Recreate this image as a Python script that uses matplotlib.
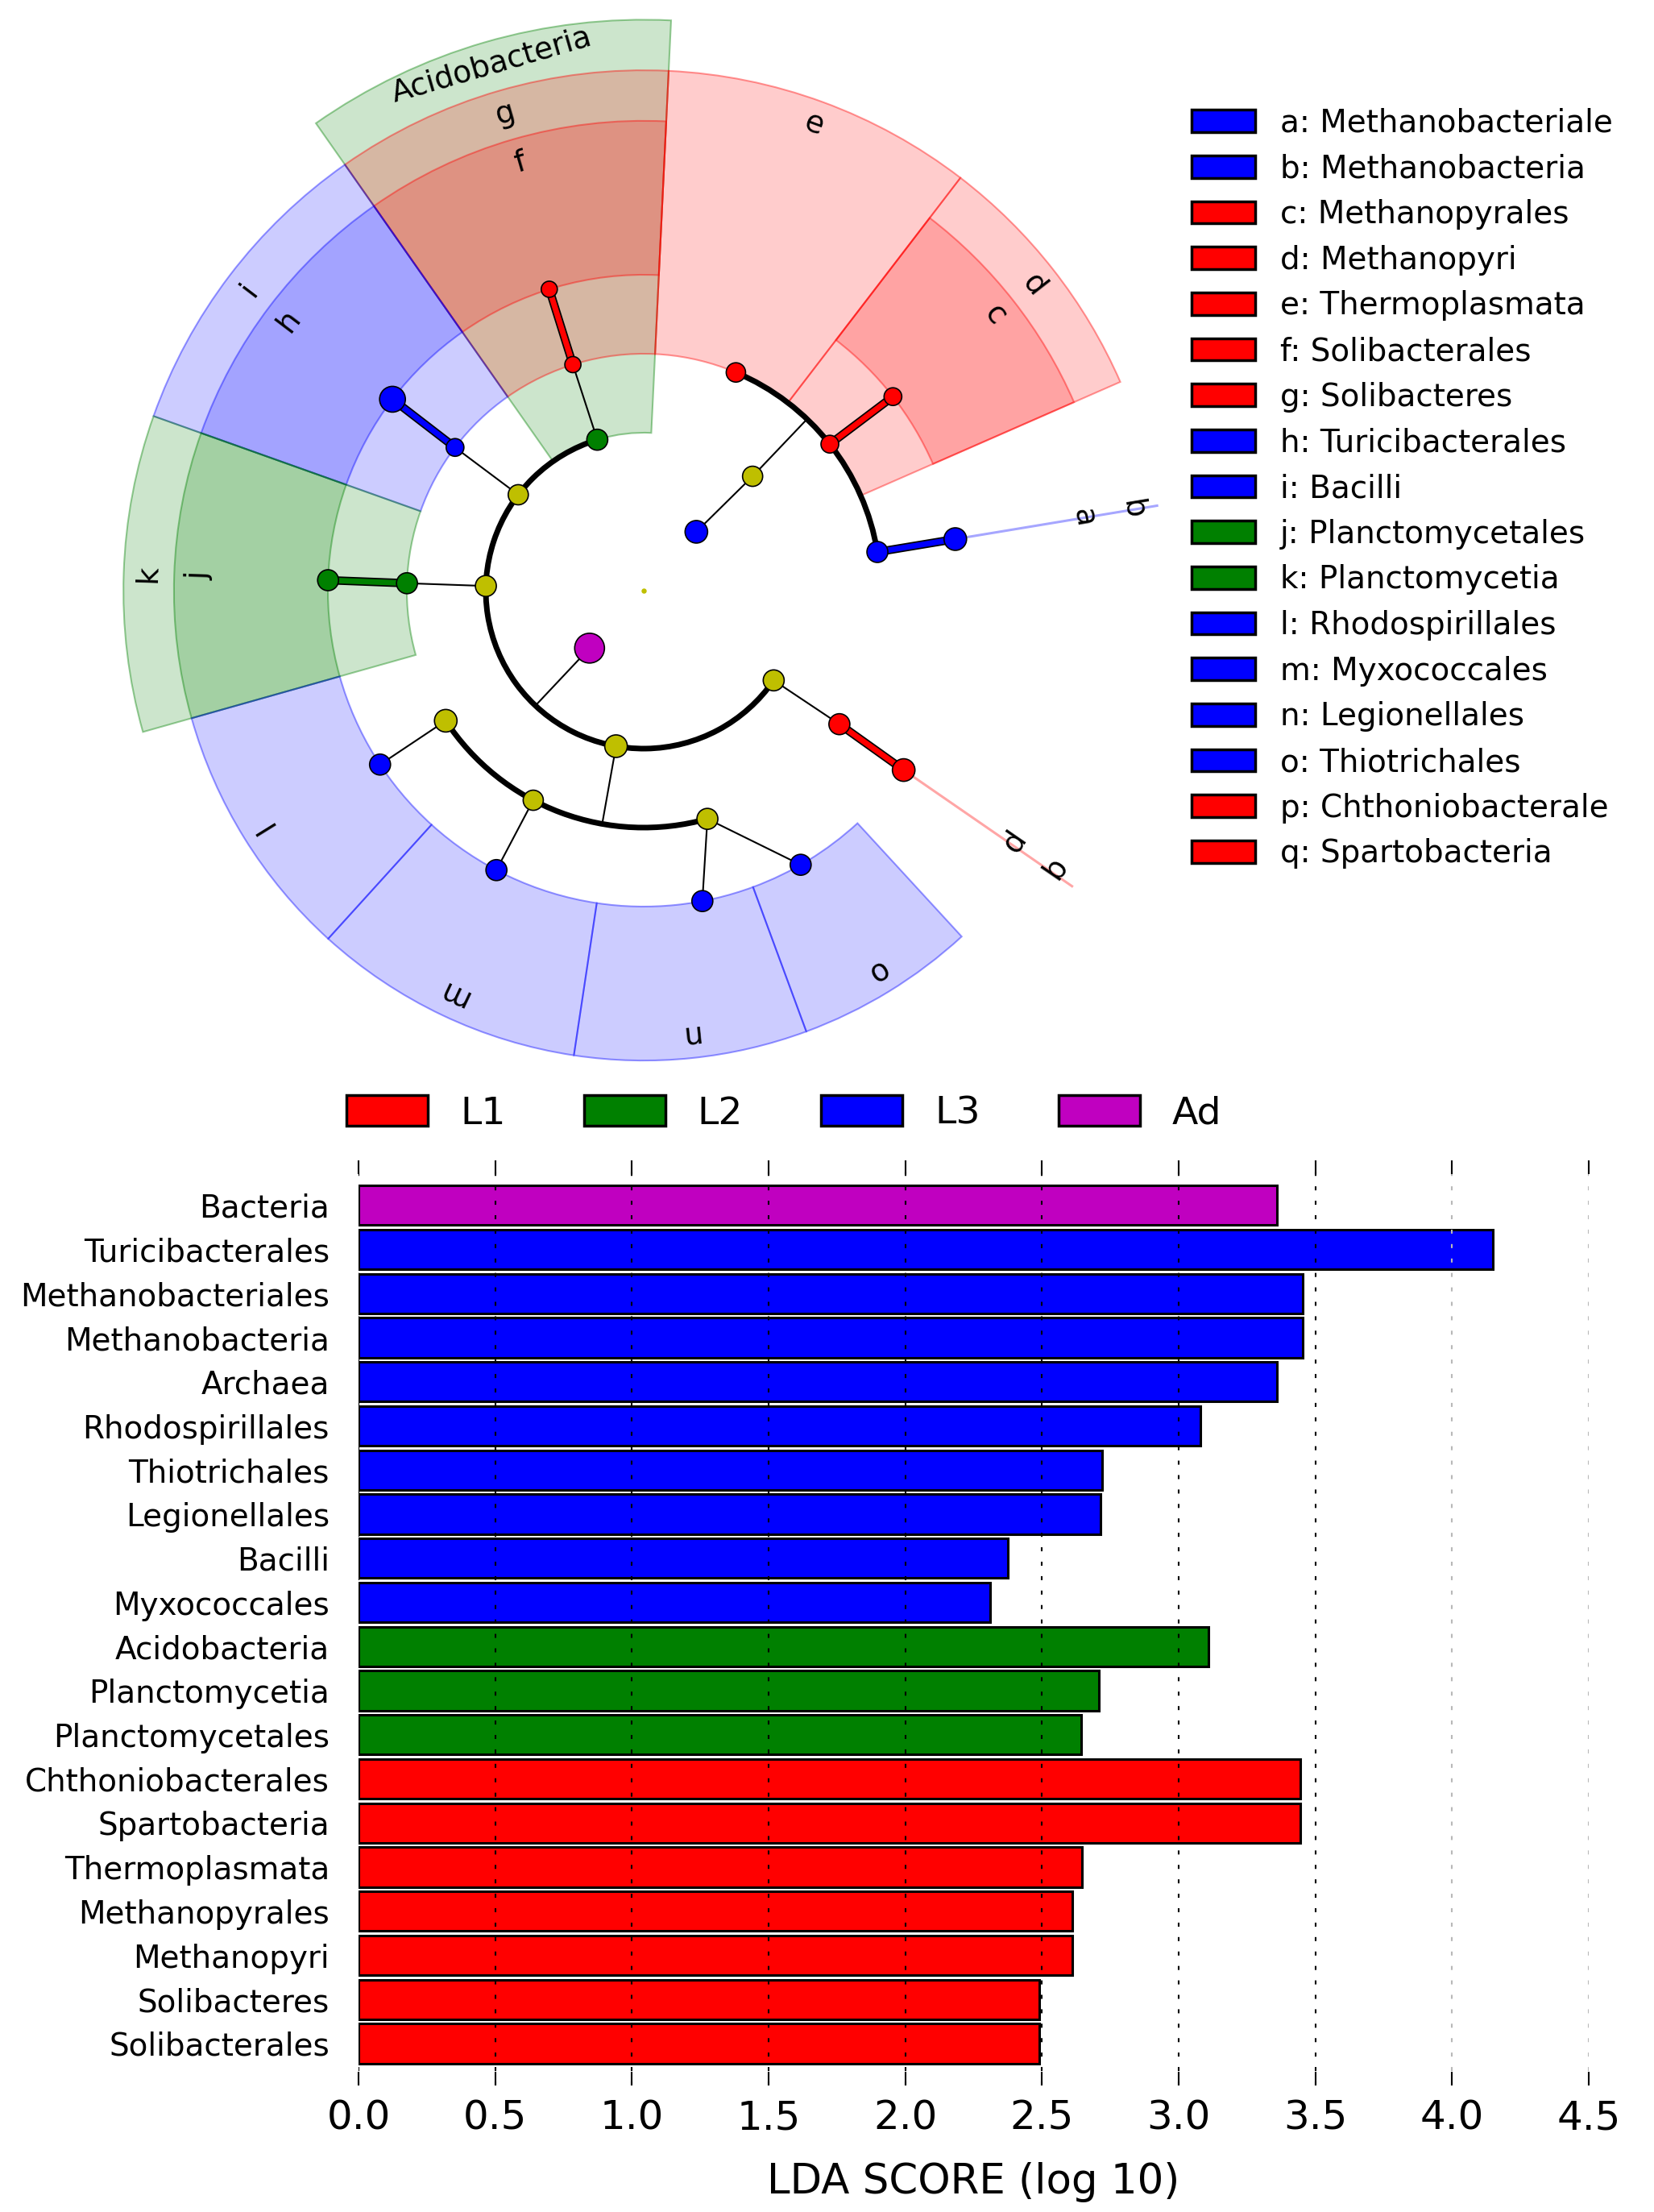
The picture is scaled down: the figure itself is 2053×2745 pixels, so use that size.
import numpy as np
import matplotlib.pyplot as plt
from matplotlib.patches import Wedge, Arc, Patch
from matplotlib.colors import to_rgba

# bar chart (LDA scores), top to bottom
bar_names = ['Bacteria', 'Turicibacterales', 'Methanobacteriales', 'Methanobacteria', 'Archaea',
             'Rhodospirillales', 'Thiotrichales', 'Legionellales', 'Bacilli', 'Myxococcales',
             'Acidobacteria', 'Planctomycetia', 'Planctomycetales', 'Chthoniobacterales',
             'Spartobacteria', 'Thermoplasmata', 'Methanopyrales', 'Methanopyri',
             'Solibacteres', 'Solibacterales']
bar_scores = [3.36, 4.15, 3.455, 3.455, 3.36, 3.08, 2.72, 2.715, 2.376, 2.31,
              3.108, 2.707, 2.642, 3.444, 3.444, 2.646, 2.611, 2.611, 2.49, 2.49]
bar_groups = ['Ad', 'L3', 'L3', 'L3', 'L3', 'L3', 'L3', 'L3', 'L3', 'L3',
              'L2', 'L2', 'L2', 'L1', 'L1', 'L1', 'L1', 'L1', 'L1', 'L1']
group_names = ['L1', 'L2', 'L3', 'Ad']
group_colors = ['#ff0000', '#008000', '#0000ff', '#c000c0']
x_ticks = [0.0, 0.5, 1.0, 1.5, 2.0, 2.5, 3.0, 3.5, 4.0, 4.5]

# cladogram nodes
node_names = ['root', 'Archaea', 'Euryarchaeota', 'Thermoplasmata', 'Methanopyri', 'Methanopyrales',
              'Methanobacteria', 'Methanobacteriales', 'Bacteria', 'Acidobacteria', 'Solibacteres',
              'Solibacterales', 'Firmicutes', 'Bacilli', 'Turicibacterales', 'Planctomycetes',
              'Planctomycetia', 'Planctomycetales', 'Proteobacteria', 'Alphaproteobacteria',
              'Rhodospirillales', 'Deltaproteobacteria', 'Myxococcales', 'Gammaproteobacteria',
              'Legionellales', 'Thiotrichales', 'Verrucomicrobia', 'Spartobacteria',
              'Chthoniobacterales']
node_parent = [None, 'root', 'Archaea', 'Euryarchaeota', 'Euryarchaeota', 'Methanopyri',
               'Euryarchaeota', 'Methanobacteria', 'root', 'Bacteria', 'Acidobacteria',
               'Solibacteres', 'Bacteria', 'Firmicutes', 'Bacilli', 'Bacteria',
               'Planctomycetes', 'Planctomycetia', 'Bacteria', 'Proteobacteria',
               'Alphaproteobacteria', 'Proteobacteria', 'Deltaproteobacteria', 'Proteobacteria',
               'Gammaproteobacteria', 'Gammaproteobacteria', 'Bacteria', 'Verrucomicrobia',
               'Spartobacteria']
node_level = [0, 1, 2, 3, 3, 4, 3, 4, 1, 2, 3, 4, 2, 3, 4, 2, 3, 4, 2, 3, 4, 3, 4, 3, 4, 4, 2, 3, 4]
node_angle = [0, 48.2, 46.4, 67.1, 38.2, 37.9, 9.4, 9.4, 226.7, 107.1, 107.4, 107.4, 142.6,
              142.8, 142.7, 178.3, 178.2, 178.1, 259.9, 213.3, 213.4, 242.2, 242.2, 285.6,
              280.7, 299.8, 325.4, 325.7, 325.4]
node_group = ['-', 'L3', '-', 'L1', 'L1', 'L1', 'L3', 'L3', 'Ad', 'L2', 'L1', 'L1', '-', 'L3',
              'L3', '-', 'L2', 'L2', '-', '-', 'L3', '-', 'L3', '-', 'L3', 'L3', '-', 'L1', 'L1']
node_size = [5, 28, 25, 24, 22, 22, 26, 28, 37, 26, 20, 20, 25, 22, 32, 26, 26, 26, 28, 28,
             26, 25, 26, 26, 26, 26, 26, 26, 28]

# clade legend
clade_letters = list('abcdefghijklmnopq')
clade_taxa = ['Methanobacteriales', 'Methanobacteria', 'Methanopyrales', 'Methanopyri',
              'Thermoplasmata', 'Solibacterales', 'Solibacteres', 'Turicibacterales', 'Bacilli',
              'Planctomycetales', 'Planctomycetia', 'Rhodospirillales', 'Myxococcales',
              'Legionellales', 'Thiotrichales', 'Chthoniobacterales', 'Spartobacteria']
clade_legend = ['Methanobacteriale', 'Methanobacteria', 'Methanopyrales', 'Methanopyri',
                'Thermoplasmata', 'Solibacterales', 'Solibacteres', 'Turicibacterales', 'Bacilli',
                'Planctomycetales', 'Planctomycetia', 'Rhodospirillales', 'Myxococcales',
                'Legionellales', 'Thiotrichales', 'Chthoniobacterale', 'Spartobacteria']
shaded = ['Acidobacteria', 'Solibacteres', 'Solibacterales', 'Thermoplasmata', 'Methanopyri',
          'Methanopyrales', 'Bacilli', 'Turicibacterales', 'Planctomycetia', 'Planctomycetales',
          'Rhodospirillales', 'Myxococcales', 'Legionellales', 'Thiotrichales']
outside = ['Methanobacteriales', 'Methanobacteria', 'Chthoniobacterales', 'Spartobacteria']

color_of = dict(zip(group_names, group_colors))
color_of['-'] = '#bfbf00'

W, H = 2053, 2745
fig = plt.figure(figsize=(W / 100, H / 100), dpi=100)

# ---------------- cladogram ----------------
U = 98.0
cx, cy = 799, 733
ax = fig.add_axes([0, 1 - 1340 / H, 1600 / W, 1340 / H])
ax.set_xlim(-cx / U, (1600 - cx) / U)
ax.set_ylim(-(1340 - cy) / U, cy / U)
ax.axis('off')

idx = {n: i for i, n in enumerate(node_names)}
children = {n: [] for n in node_names}
for n, p in zip(node_names, node_parent):
    if p is not None:
        children[p].append(n)


def pol(r, a):
    t = np.radians(a)
    return r * np.cos(t), r * np.sin(t)


def outer_r(level):
    return 5.95 + 0.64 * (4 - level)


leaves = sorted([node_angle[idx[n]] for n in node_names if not children[n]])
ext = [leaves[-1] - 360] + leaves + [leaves[0] + 360]


def leaf_angles(n):
    if not children[n]:
        return [node_angle[idx[n]]]
    out = []
    for c in children[n]:
        out += leaf_angles(c)
    return out


for n in shaded:
    la = leaf_angles(n)
    lo, hi = min(la), max(la)
    i0, i1 = ext.index(lo), ext.index(hi)
    a0 = (ext[i0 - 1] + lo) / 2
    a1 = (hi + ext[i1 + 1]) / 2
    lev = node_level[idx[n]]
    ro = outer_r(lev)
    col = color_of[node_group[idx[n]]]
    ax.add_patch(Wedge((0, 0), ro, a0, a1, width=ro - lev,
                       facecolor=to_rgba(col, 0.2), edgecolor=to_rgba(col, 0.4),
                       lw=1.5, zorder=1))
    am = (a0 + a1) / 2
    lab = clade_letters[clade_taxa.index(n)] if n in clade_taxa else n
    x, y = pol(ro - 0.31, am)
    ax.text(x, y, lab, fontsize=27, rotation=am - 90, rotation_mode='anchor',
            ha='center', va='center', zorder=6)

for n in outside:
    i = idx[n]
    col = color_of[node_group[i]]
    x0, y0 = pol(node_level[i], node_angle[i])
    x1, y1 = pol(outer_r(3), node_angle[i])
    if not children[n]:
        ax.plot([x0, x1], [y0, y1], color=col, alpha=0.35, lw=2.2, zorder=1)
    x, y = pol(outer_r(node_level[i]) - 0.31, node_angle[i])
    ax.text(x, y, clade_letters[clade_taxa.index(n)], fontsize=27,
            rotation=node_angle[i] - 90, rotation_mode='anchor',
            ha='center', va='center', zorder=6)

for p in node_names:
    ch = children[p]
    if not ch or p == 'root':
        continue
    ip = idx[p]
    lp, ap = node_level[ip], node_angle[ip]
    if len(ch) > 1 and lp <= 2:
        angs = [node_angle[idx[c]] for c in ch]
        r = lp + 1
        ax.add_patch(Arc((0, 0), 2 * r, 2 * r, theta1=min(angs), theta2=max(angs),
                         lw=5, color='k', zorder=3))
        xa, ya = pol(lp, ap)
        xb, yb = pol(r, ap)
        ax.plot([xa, xb], [ya, yb], color='k', lw=1.5, zorder=2)
    else:
        for c in ch:
            ic = idx[c]
            xa, ya = pol(lp, ap)
            xb, yb = pol(node_level[ic], node_angle[ic])
            if node_group[ip] == node_group[ic] and node_group[ic] != '-':
                ax.plot([xa, xb], [ya, yb], color='k', lw=7.5, zorder=3,
                        solid_capstyle='butt')
                ax.plot([xa, xb], [ya, yb], color=color_of[node_group[ic]], lw=5,
                        zorder=3.5, solid_capstyle='butt')
            else:
                ax.plot([xa, xb], [ya, yb], color='k', lw=1.5, zorder=2)

nx = [pol(l, a)[0] for l, a in zip(node_level, node_angle)]
ny = [pol(l, a)[1] for l, a in zip(node_level, node_angle)]
ax.scatter(nx[1:], ny[1:], s=[(s * 0.72) ** 2 for s in node_size[1:]],
           c=[color_of[g] for g in node_group[1:]], edgecolors='k', linewidths=1.2, zorder=5)
ax.scatter(nx[:1], ny[:1], s=(node_size[0] * 0.72) ** 2, c=color_of['-'], zorder=5)

clade_handles = [Patch(facecolor=color_of[node_group[idx[t]]], edgecolor='k', lw=2.5)
                 for t in clade_taxa]
fig.legend(clade_handles, [f'{l}: {t}' for l, t in zip(clade_letters, clade_legend)],
           loc='center left', bbox_to_anchor=(1479 / W, 1 - 606 / H), frameon=False,
           fontsize=28, handlelength=2.03, handleheight=0.72, handletextpad=0.8,
           labelspacing=0.48, borderpad=0, borderaxespad=0)

# ---------------- LDA bar chart ----------------
ax2 = fig.add_axes([445 / W, 1 - 2588 / H, (1972 - 445) / W, (2588 - 1440) / H])
ypos = np.arange(len(bar_names))
ax2.barh(ypos, bar_scores, height=0.9, color=[color_of[g] for g in bar_groups],
         edgecolor='k', lw=2.2, zorder=1)
ax2.set_xlim(0, 4.5)
ax2.set_ylim(19.95, -1.02)
ax2.set_yticks(ypos)
ax2.set_yticklabels(bar_names)
ax2.set_xticks(x_ticks)
ax2.set_xticklabels([f'{t:.1f}' for t in x_ticks])
ax2.set_axisbelow(False)
ax2.xaxis.grid(True, linestyle=(0, (2.4, 6.2)), color='k', lw=1.5)
for gl, t in zip(ax2.get_xgridlines(), x_ticks):
    if t > 3.75:
        gl.set_color('0.72')
for s in ax2.spines.values():
    s.set_visible(False)
ax2.tick_params(axis='x', direction='in', top=True, bottom=True, length=12, width=1.5,
                labelsize=36, pad=12)
ax2.tick_params(axis='y', length=0, labelsize=28, pad=26)
ax2.set_xlabel('LDA SCORE (log 10)', fontsize=37, labelpad=22)

group_handles = [Patch(facecolor=c, edgecolor='k', lw=2.5) for c in group_colors]
fig.legend(group_handles, group_names, loc='center left', ncol=4,
           bbox_to_anchor=(430 / W, 1 - 1382 / H), frameon=False, fontsize=34,
           handlelength=2.14, handleheight=0.85, handletextpad=0.85, columnspacing=2.05,
           borderpad=0, borderaxespad=0)

fig.savefig('out.png', dpi=100)
